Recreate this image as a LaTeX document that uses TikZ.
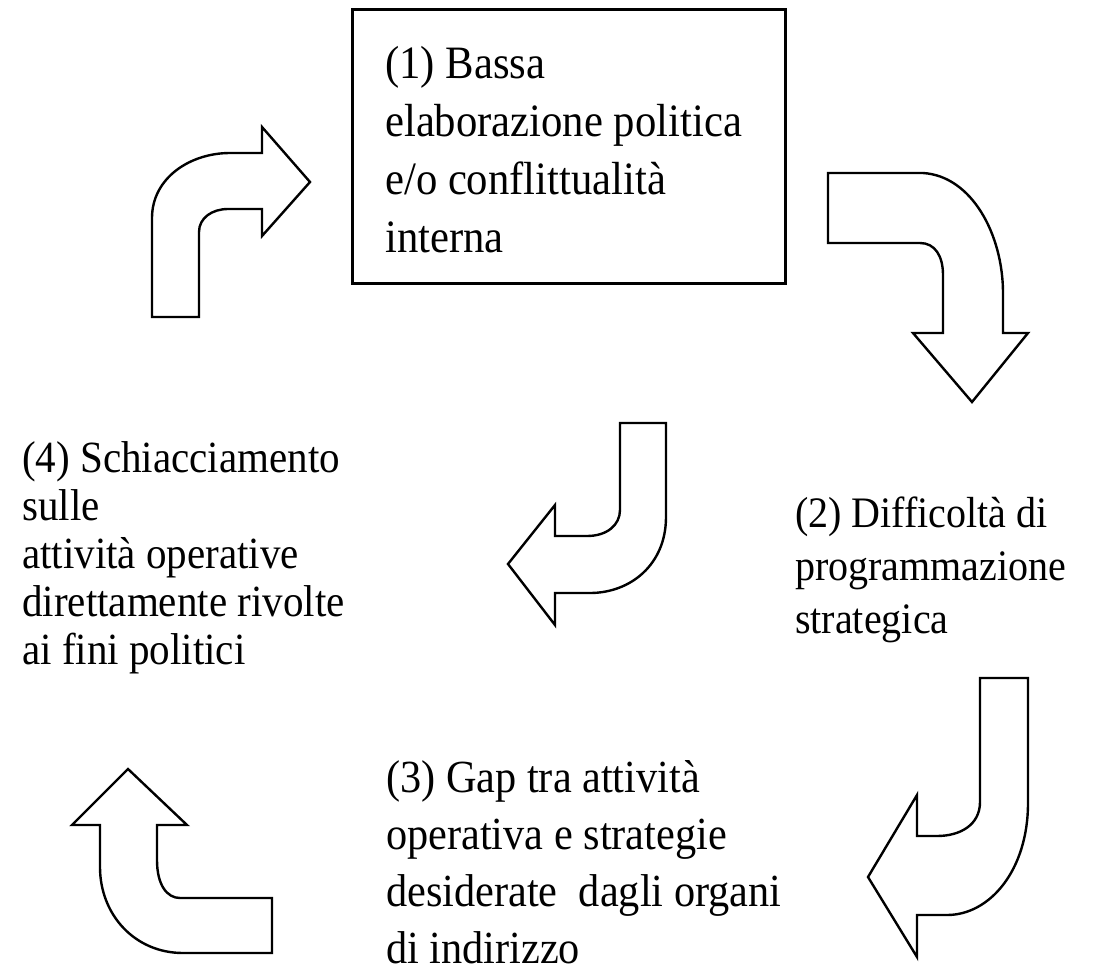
\documentclass[tikz,border=0pt]{standalone}
\usepackage{fontspec}
\setmainfont{Liberation Serif}[FakeStretch=0.92]
\begin{document}
\begin{tikzpicture}[x=1pt, y=-1pt,
    blockarrow/.style={draw, line width=2.4pt, line join=miter, fill=white},
    stagetext/.style={anchor=north west, inner sep=0pt, align=left}]
    \useasboundingbox (0,0) rectangle (1120,975);

    \path[draw, line width=3pt] (352,9) rectangle (785,283);
    \node[stagetext, font={\fontsize{46.4}{58}\selectfont}] (stage1) at (385,46)
        {(1) Bassa\\ elaborazione politica\\ e/o conflittualità\\ interna};

    \node[stagetext, font={\fontsize{43.5}{53}\selectfont}] (stage2) at (795,497)
        {(2) Difficoltà di\\ programmazione\\ strategica};

    \node[stagetext, font={\fontsize{46}{57}\selectfont}] (stage3) at (386,760)
        {(3) Gap tra attività\\ operativa e strategie\\ desiderate\ \ dagli organi\\ di indirizzo};

    \node[stagetext, font={\fontsize{44.6}{48}\selectfont}] (stage4) at (22,441)
        {(4) Schiacciamento\\ sulle\\ attività operative\\ direttamente rivolte\\ ai fini politici};

    \path[blockarrow] (152,317) -- (152,218) .. controls (152,178) and (190,153) .. (230,153)
        -- (262,153) -- (262,127) -- (310,182) -- (262,236) -- (262,209) -- (228,209)
        .. controls (212,209) and (199,218) .. (199,232) -- (199,317) -- cycle;

    \path[blockarrow] (828,173) -- (923,173) .. controls (972,176) and (1003,235) .. (1003,293)
        -- (1003,333) -- (1028,333) -- (972,402) -- (913,333) -- (943,333) -- (943,275)
        .. controls (943,256) and (935,243) .. (920,243) -- (828,243) -- cycle;

    \path[blockarrow] (620,423) -- (666,423) -- (666,517) .. controls (666,565) and (630,593) .. (590,593)
        -- (555,593) -- (555,625) -- (508,564) -- (555,505) -- (555,536) -- (587,536)
        .. controls (607,536) and (620,525) .. (620,510) -- cycle;

    \path[blockarrow] (980,678) -- (1028,678) -- (1028,803) .. controls (1028,870) and (990,915) .. (947,915)
        -- (917,915) -- (917,957) -- (868,877) -- (917,795) -- (917,836) -- (937,836)
        .. controls (960,836) and (980,825) .. (980,802) -- cycle;

    \path[blockarrow] (272,898) -- (272,953) -- (183,953) .. controls (135,953) and (100,915) .. (100,867)
        -- (100,825) -- (72,825) -- (128,769) -- (187,825) -- (157,825) -- (157,860)
        .. controls (157,885) and (167,898) .. (180,898) -- cycle;
\end{tikzpicture}
\end{document}
